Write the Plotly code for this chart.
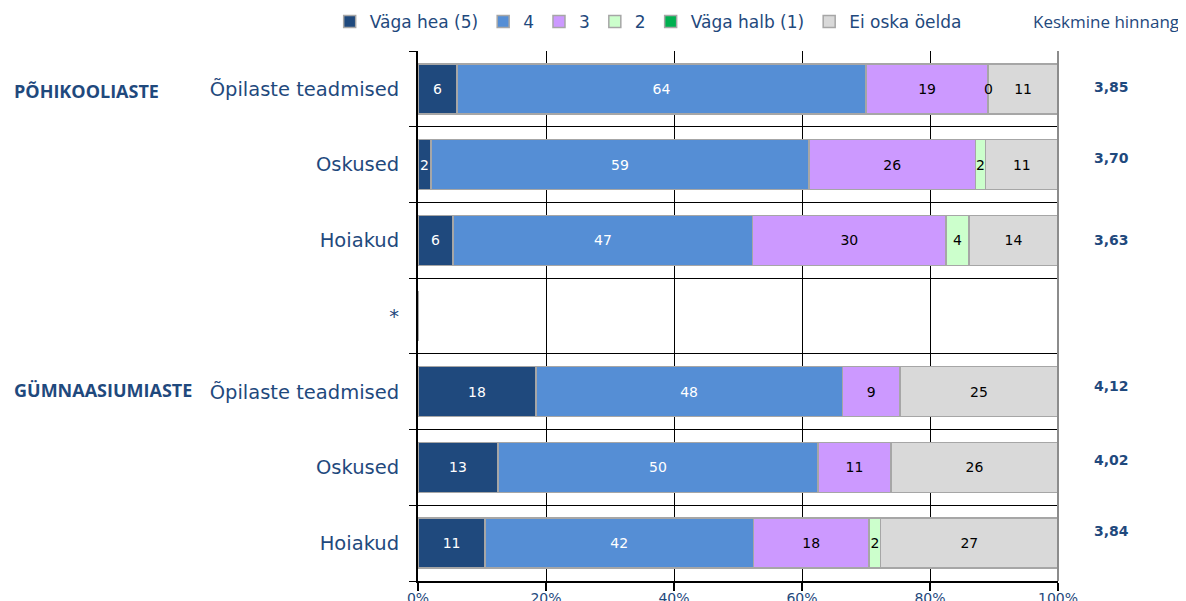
import plotly.graph_objects as go

# Categories (rows, top to bottom)
row_ids = ["p1", "p2", "p3", "sep", "g1", "g2", "g3"]
row_labels = ["Õpilaste teadmised", "Oskused", "Hoiakud", "*",
              "Õpilaste teadmised", "Oskused", "Hoiakud"]
group_rows = ["p1", "g1"]
group_names = ["PÕHIKOOLIASTE", "GÜMNAASIUMIASTE"]

# Series values (% of respondents)
v5 = [6.1, 2.0, 5.5, 0, 18.4, 12.5, 10.5]
v4 = [63.9, 59.1, 46.8, 0, 47.9, 50.0, 41.9]
v3 = [19.1, 26.0, 30.2, 0, 9.0, 11.4, 18.1]
v2 = [0, 1.6, 3.6, 0, 0, 0, 1.8]
v1 = [0, 0, 0, 0, 0, 0, 0]
v0 = [10.9, 11.3, 13.9, 0, 24.7, 26.1, 27.7]

# Displayed labels
t5 = ["6", "2", "6", "", "18", "13", "11"]
t4 = ["64", "59", "47", "", "48", "50", "42"]
t3 = ["19", "26", "30", "", "9", "11", "18"]
t2 = ["0", "2", "4", "", "", "", "2"]
t1 = ["", "", "", "", "", "", ""]
t0 = ["11", "11", "14", "", "25", "26", "27"]

# Mean ratings
means = ["3,85", "3,70", "3,63", "", "4,12", "4,02", "3,84"]
mean_shift = [2, 7, 0, 0, 6, 7, 12]

series = [
    ("Väga hea (5)", v5, t5, "#1F497D", "white"),
    ("4", v4, t4, "#558ED5", "white"),
    ("3", v3, t3, "#CC99FF", "black"),
    ("2", v2, t2, "#CCFFCC", "black"),
    ("Väga halb (1)", v1, t1, "#00B050", "black"),
    ("Ei oska öelda", v0, t0, "#D9D9D9", "black"),
]

navy = "#1F497D"
font_main = "DejaVu Sans"

fig = go.Figure()
cum = [0.0] * len(row_ids)
annotations = []
for name, vals, labels, color, tcolor in series:
    shown = [lab if v > 0 else "" for v, lab in zip(vals, labels)]
    fig.add_trace(go.Bar(
        name=name, y=row_ids, x=vals, orientation="h",
        marker=dict(color=color, line=dict(color="#A6A6A6", width=1.5)),
        text=shown, textposition="inside", insidetextanchor="middle",
        textangle=0, constraintext="none",
        textfont=dict(color=tcolor, size=14, family=font_main),
        hoverinfo="skip",
    ))
    for i, (v, lab) in enumerate(zip(vals, labels)):
        if v == 0 and lab:
            annotations.append(dict(x=cum[i], y=row_ids[i], xref="x", yref="y",
                                    text=lab, showarrow=False, xanchor="center",
                                    font=dict(size=14, color="black", family=font_main)))
    cum = [c + v for c, v in zip(cum, vals)]

for rid, m, s in zip(row_ids, means, mean_shift):
    if m:
        annotations.append(dict(x=1.084, y=rid, xref="paper", yref="y", text="<b>" + m + "</b>",
                                showarrow=False, yshift=s, xanchor="center",
                                font=dict(size=14, color=navy, family=font_main)))
for rid, g, s in zip(group_rows, group_names, [-2, 2]):
    annotations.append(dict(x=-0.635, y=rid, xref="paper", yref="y", text="<b>" + g + "</b>",
                            xanchor="left", showarrow=False, yshift=s,
                            font=dict(size=18, color=navy, family="Open Sans")))
annotations.append(dict(x=1.075, y=1.055, xref="paper", yref="paper", yanchor="middle",
                        xanchor="center", text="Keskmine hinnang", showarrow=False,
                        font=dict(size=17, color=navy, family="Open Sans")))

fig.update_layout(
    width=1178, height=593,
    margin=dict(l=410, r=128, t=43, b=20, autoexpand=False),
    barmode="stack", bargap=0.34,
    plot_bgcolor="white", paper_bgcolor="white",
    font=dict(family=font_main, color=navy),
    uniformtext=dict(minsize=14, mode="show"),
    legend=dict(orientation="h", traceorder="normal", x=-0.138, xanchor="left",
                y=1.055, yanchor="middle",
                font=dict(size=17, color=navy, family=font_main),
                itemwidth=30, tracegroupgap=0, bgcolor="rgba(0,0,0,0)"),
    annotations=annotations,
    shapes=[dict(type="line", xref="paper", yref="paper", x0=1, x1=1, y0=0, y1=1,
                 line=dict(color="#8C8C8C", width=2))],
)
fig.update_xaxes(range=[0, 100], tickvals=[0, 20, 40, 60, 80, 100],
                 ticktext=["0%", "20%", "40%", "60%", "80%", "100%"],
                 showgrid=True, gridcolor="black", gridwidth=1,
                 showline=True, linecolor="black", linewidth=2,
                 ticks="outside", ticklen=8, tickcolor="black", tickwidth=1.5,
                 ticklabelstandoff=-5,
                 tickfont=dict(size=14, color=navy), zeroline=False, automargin=False)
fig.update_yaxes(type="category", categoryorder="array", categoryarray=row_ids,
                 tickmode="array", tickvals=row_ids, ticktext=row_labels,
                 autorange="reversed", tickson="boundaries",
                 showgrid=True, gridcolor="black", gridwidth=1,
                 showline=True, linecolor="black", linewidth=2,
                 ticks="outside", ticklen=7, tickcolor="black",
                 ticklabelstandoff=13,
                 tickfont=dict(size=19.5, color=navy, family=font_main), automargin=False)

fig.write_html("out.html")
